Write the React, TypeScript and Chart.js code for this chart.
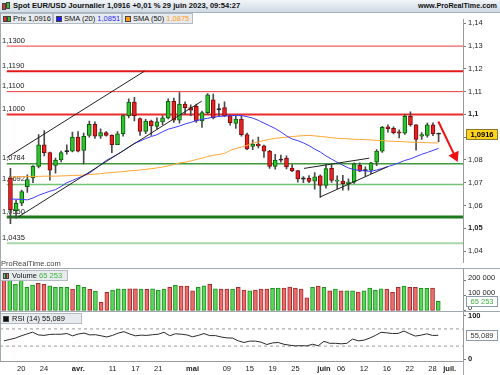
import React, { useEffect, useRef } from 'react';
import { Chart, registerables } from 'chart.js';

Chart.register(...registerables);

const FONT = '"Liberation Sans", Arial, Helvetica, sans-serif';

// ---------- DATA ----------
const dates = [
  '15/03','16/03','17/03','20/03','21/03','22/03','23/03','24/03','27/03','28/03','29/03','30/03','31/03',
  '03/04','04/04','05/04','06/04','07/04','10/04','11/04','12/04','13/04','14/04','17/04','18/04','19/04','20/04','21/04','24/04','25/04','26/04','27/04','28/04',
  '01/05','02/05','03/05','04/05','05/05','08/05','09/05','10/05','11/05','12/05','15/05','16/05','17/05','18/05','19/05','22/05','23/05','24/05','25/05','26/05','29/05','30/05','31/05',
  '01/06','02/06','05/06','06/06','07/06','08/06','09/06','12/06','13/06','14/06','15/06','16/06','19/06','20/06','21/06','22/06','23/06','26/06','27/06','28/06','29/06'
];

const open = [
  1.0721,1.0578,1.0610,1.0683,1.0721,1.0772,1.0867,1.0832,1.0776,1.0800,1.0836,1.0839,1.0901,
  1.0842,1.0908,1.0957,1.0905,1.0920,1.0908,1.0867,1.0915,1.0995,1.1054,1.0982,1.0925,1.0971,1.0947,1.0967,1.0985,1.1058,1.0975,1.1045,1.1030,
  1.1036,1.0971,1.1008,1.1064,1.1020,1.1030,1.0995,1.0961,1.0980,1.0911,1.0860,1.0870,1.0862,1.0839,1.0772,1.0799,1.0808,1.0765,1.0753,1.0718,1.0721,1.0707,1.0730,
  1.0688,1.0763,1.0707,1.0707,1.0696,1.0703,1.0776,1.0753,1.0755,1.0790,1.0839,1.0946,1.0939,1.0922,1.0918,1.0992,1.0954,1.0905,1.0908,1.0954,1.0913
];
const high = [
  1.0763,1.0625,1.0668,1.0735,1.0775,1.0911,1.0929,1.0835,1.0808,1.0839,1.0867,1.0922,1.0925,
  1.0918,1.0971,1.0968,1.0937,1.0925,1.0910,1.0925,1.0998,1.1068,1.1075,1.0985,1.0979,1.0975,1.0985,1.0995,1.1068,1.1072,1.1096,1.1055,1.1042,
  1.1045,1.1015,1.1092,1.1089,1.1047,1.1055,1.0998,1.0995,1.0995,1.0918,1.0888,1.0901,1.0865,1.0842,1.0825,1.0822,1.0818,1.0780,1.0755,1.0727,1.0732,1.0745,1.0735,
  1.0780,1.0780,1.0730,1.0733,1.0717,1.0787,1.0788,1.0770,1.0790,1.0846,1.0948,1.0954,1.0946,1.0932,1.1000,1.1011,1.0955,1.0920,1.0962,1.0963,1.0918
];
const low = [
  1.0520,1.0545,1.0600,1.0658,1.0700,1.0765,1.0818,1.0711,1.0742,1.0792,1.0826,1.0835,1.0835,
  1.0783,1.0900,1.0895,1.0895,1.0905,1.0832,1.0867,1.0905,1.0985,1.0971,1.0908,1.0915,1.0908,1.0935,1.0955,1.0980,1.0965,1.0962,1.1000,1.0995,
  1.0965,1.0943,1.1000,1.0980,1.0995,1.0990,1.0953,1.0939,1.0905,1.0845,1.0845,1.0853,1.0811,1.0763,1.0760,1.0790,1.0761,1.0749,1.0703,1.0700,1.0700,1.0672,1.0636,
  1.0676,1.0702,1.0674,1.0667,1.0667,1.0697,1.0749,1.0728,1.0740,1.0775,1.0833,1.0922,1.0914,1.0897,1.0912,1.0948,1.0843,1.0890,1.0900,1.0907,1.0880
];
const close = [
  1.0582,1.0610,1.0661,1.0714,1.0772,1.0867,1.0832,1.0755,1.0800,1.0832,1.0839,1.0901,1.0839,
  1.0904,1.0957,1.0905,1.0920,1.0908,1.0867,1.0915,1.0995,1.1054,1.0995,1.0925,1.0971,1.0950,1.0967,1.0985,1.1058,1.0975,1.1045,1.1030,1.1019,
  1.0971,1.1008,1.1086,1.0985,1.1023,1.0995,1.0964,1.0980,1.0911,1.0849,1.0870,1.0862,1.0839,1.0772,1.0800,1.0801,1.0770,1.0753,1.0717,1.0716,1.0706,1.0726,1.0688,
  1.0762,1.0710,1.0712,1.0696,1.0703,1.0783,1.0751,1.0756,1.0788,1.0839,1.0943,1.0936,1.0920,1.0918,1.0992,1.0954,1.0890,1.0911,1.0954,1.0915,1.0916
];
const sma20 = [
  1.0629,1.0628,1.0627,1.0625,1.0633,1.0645,1.0654,1.0663,1.0670,1.0684,1.0700,1.0710,1.0721,
  1.0731,1.0742,1.0760,1.0779,1.0798,1.0811,1.0825,1.0840,1.0857,1.0873,1.0883,1.0894,1.0903,1.0911,1.0924,1.0935,1.0942,1.0949,1.0958,1.0965,
  1.0973,1.0978,1.0983,1.0988,1.0991,1.0993,1.0994,1.0996,1.0995,1.0990,1.0984,1.0974,1.0962,1.0950,1.0938,1.0923,1.0906,1.0892,1.0885,1.0875,1.0863,1.0848,1.0835,
  1.0818,1.0804,1.0790,1.0777,1.0765,1.0758,1.0754,1.0752,1.0750,1.0756,1.0763,1.0771,1.0779,1.0788,1.0798,1.0805,1.0815,1.0825,1.0833,1.0842,1.0851
];
const sma50 = [
  1.0725,1.0726,1.0727,1.0727,1.0728,1.0728,1.0729,1.0729,1.0729,1.0730,1.0731,1.0732,1.0733,
  1.0734,1.0736,1.0738,1.0740,1.0743,1.0745,1.0747,1.0749,1.0752,1.0754,1.0756,1.0759,1.0762,1.0765,1.0769,1.0774,1.0780,1.0787,1.0790,1.0796,
  1.0802,1.0808,1.0815,1.0821,1.0824,1.0829,1.0842,1.0850,1.0857,1.0864,1.0875,1.0879,1.0886,1.0890,1.0895,1.0898,1.0900,1.0903,1.0905,1.0907,1.0908,1.0906,1.0903,
  1.0901,1.0898,1.0895,1.0894,1.0893,1.0891,1.0890,1.0889,1.0888,1.0886,1.0885,1.0883,1.0882,1.0881,1.0880,1.0878,1.0878,1.0877,1.0876,1.0875,1.0875
];
const volume = [
  213000,210000,178000,206000,158000,173000,184000,178000,168000,158000,158000,158000,146000,
  171000,158000,144000,133000,58000,124000,140000,148000,146000,148000,148000,146000,144000,148000,140000,146000,158000,171000,166000,166000,
  135000,158000,168000,178000,148000,146000,146000,146000,158000,140000,135000,140000,146000,146000,151000,153000,153000,160000,153000,146000,88000,158000,166000,
  158000,135000,146000,135000,135000,135000,126000,135000,153000,140000,148000,146000,124000,158000,166000,158000,158000,151000,151000,153000,65253
];
const rsi = [
  42.2,45.4,48.6,53.9,58.1,62.4,56.0,54.9,57.1,57.6,57.6,59.2,53.9,
  58.1,60.3,56.0,56.5,53.9,51.2,54.9,60.3,63.5,58.1,53.9,55.5,54.9,56.5,57.6,62.1,54.2,58.7,57.6,56.0,
  51.7,54.9,59.2,54.4,54.4,51.2,49.1,48.6,42.2,38.4,41.6,41.6,39.0,33.7,37.4,38.4,34.2,32.1,30.5,31.0,30.5,34.2,30.9,
  41.1,36.5,36.5,35.3,36.5,46.4,42.2,43.8,48.6,54.9,62.1,60.8,59.2,59.7,65.0,58.7,53.3,55.5,58.5,54.8,55.089
];

const priceTicks = [1.04, 1.05, 1.06, 1.07, 1.08, 1.09, 1.1, 1.11, 1.12, 1.13, 1.14];
const boldPriceTicks = [1.1, 1.05];
const volTicks = [0, 100000, 200000];
const rsiTicks = [0, 100];
const rsiBands = [70, 30];
const levels = [1.13, 1.119, 1.11, 1.1, 1.0784, 1.0692, 1.055, 1.0435];
const trendLines = [
  [[-0.7, 1.0810], [23.8, 1.1190]],
  [[1.4, 1.0550], [33.95, 1.1058]],
  [[52.1, 1.0763], [63.7, 1.0808]],
  [[55.0, 1.0638], [67.0, 1.0771]],
];
const arrowLine = [[75.95, 1.0969], [78.9, 1.0817]];
const xTickIdx = [3, 7, 13, 19, 23, 27, 33, 39, 43, 47, 51, 56, 59, 63, 67, 71, 75, 78];
const xTickLabels = ['20', '24', 'avr.', '11', '17', '21', 'mai', '09', '15', '19', '25', 'juin', '06', '12', '16', '22', '28', 'juil.'];
const monthLabels = ['avr.', 'mai', 'juin', 'juil.'];

// ---------- STYLE ----------
const X_MIN = -0.7;
const X_MAX = 80.33;
const levelColors = ['#f03636', '#e01a1a', '#f03636', '#ec2a2a', '#3c9a3c', '#74c274', '#1c7a1c', '#a8d8a8'];
const levelWidths = [1, 2, 1, 2, 1.5, 1.5, 3, 2];
const last = close.length - 1;

function fr(v: number, d: number) { return v.toFixed(d).replace('.', ','); }
function thousands(v: number) { return Math.round(v).toString().replace(/\B(?=(\d{3})+(?!\d))/g, ' '); }
const isUp = (i: number) => close[i] >= open[i];
const isDoji = (i: number) => Math.abs(close[i] - open[i]) < 0.00035;

const yAxisFit = (s: any) => { s.width = 37; s.paddingTop = 0; s.paddingBottom = 0; };

function xHidden() {
  return { type: 'linear', min: X_MIN, max: X_MAX, display: false, offset: false };
}

function axisBox(ctx: any, y: number, text: string, fill: string, stroke: string, color: string, bold: boolean) {
  ctx.save();
  ctx.fillStyle = fill;
  ctx.strokeStyle = stroke;
  ctx.lineWidth = 1;
  ctx.fillRect(466, Math.round(y) - 5, 32, 11);
  ctx.strokeRect(466.5, Math.round(y) - 4.5, 31, 10);
  ctx.fillStyle = color;
  ctx.font = (bold ? 'bold ' : '') + '7.5px ' + FONT;
  ctx.textAlign = 'center';
  ctx.textBaseline = 'middle';
  ctx.fillText(text, 482, Math.round(y) + 0.5);
  ctx.restore();
}

function priceConfig(): any {
  const pts = (arr: number[]) => arr.map((v, i) => ({ x: i, y: v }));
  const datasets: any[] = [];
  levels.forEach((lv, k) => datasets.push({
    type: 'line', data: [{ x: X_MIN, y: lv }, { x: X_MAX, y: lv }],
    borderColor: levelColors[k], borderWidth: levelWidths[k], pointRadius: 0, order: 10,
  }));
  datasets.push({
    type: 'bar', data: dates.map((_, i) => ({ x: i, y: [low[i], high[i]] })),
    backgroundColor: '#4a4a4a', barThickness: 1, grouped: false, order: 6,
  });
  datasets.push({
    type: 'bar', data: dates.map((_, i) => ({ x: i, y: [open[i], close[i]] })),
    backgroundColor: dates.map((_, i) => isDoji(i) ? '#222' : isUp(i) ? '#2ec42e' : '#e82222'),
    borderColor: dates.map((_, i) => isDoji(i) ? '#222' : isUp(i) ? '#0b5e0b' : '#7a0a0a'),
    borderWidth: 1, borderSkipped: false, barThickness: 4, minBarLength: 1.2, grouped: false, order: 5,
  });
  datasets.push({ type: 'line', data: pts(sma50), borderColor: '#ffa535', borderWidth: 1, pointRadius: 0, order: 3 });
  datasets.push({ type: 'line', data: pts(sma20), borderColor: '#3c3cff', borderWidth: 1, pointRadius: 0, order: 2 });
  trendLines.forEach((t) => datasets.push({
    type: 'line', data: t.map(([x, y]) => ({ x, y })), borderColor: '#222', borderWidth: 1, pointRadius: 0, order: 1,
  }));
  datasets.push({
    type: 'line', data: arrowLine.map(([x, y]) => ({ x, y })), borderColor: '#ee1111', borderWidth: 2,
    pointRadius: [0, 4.5], pointStyle: 'triangle', pointRotation: [0, 155],
    pointBackgroundColor: '#ee1111', pointBorderColor: '#ee1111', order: 0, clip: false,
  });

  const overlay = {
    id: 'priceOverlay',
    beforeDatasetsDraw(chart: any) {
      const { ctx } = chart;
      const y = chart.scales.y;
      ctx.save();
      ctx.font = '7.5px ' + FONT;
      ctx.fillStyle = '#222';
      ctx.textBaseline = 'bottom';
      ctx.textAlign = 'left';
      levels.forEach((lv) => ctx.fillText(fr(lv, 4), 2, y.getPixelForValue(lv) - 1.5));
      ctx.restore();
    },
    afterDraw(chart: any) {
      const y = chart.scales.y;
      axisBox(chart.ctx, y.getPixelForValue(close[last]), fr(close[last], 4), '#ffd21e', '#8a7a30', '#000', true);
    },
  };

  return {
    type: 'bar',
    data: { datasets },
    plugins: [overlay],
    options: {
      responsive: false, maintainAspectRatio: false, animation: false, events: [],
      layout: { padding: 0 },
      plugins: { legend: { display: false }, tooltip: { enabled: false } },
      scales: {
        x: xHidden(),
        y: {
          position: 'right', min: 1.035, max: 1.141667, beginAtZero: false,
          afterBuildTicks: (s: any) => { s.ticks = priceTicks.map((v) => ({ value: v })); },
          afterFit: yAxisFit,
          grid: { drawOnChartArea: false, drawTicks: true, tickLength: 3, color: '#777' },
          border: { display: true, color: '#9a9a9a' },
          ticks: {
            padding: 2, color: '#222',
            callback: (v: any) => String(Number(Number(v).toFixed(2))).replace('.', ','),
            font: (c: any) => ({
              family: FONT, size: 7.5,
              weight: c.tick && boldPriceTicks.some((b) => Math.abs(b - c.tick.value) < 1e-6) ? 'bold' : 'normal',
            }),
          },
        },
      },
    },
  };
}

function volConfig(): any {
  const overlay = {
    id: 'volOverlay',
    afterDraw(chart: any) {
      const y = chart.scales.y;
      axisBox(chart.ctx, y.getPixelForValue(volume[last]), thousands(volume[last]), '#ffffff', '#8a9aa8', '#3cb43c', false);
    },
  };
  return {
    type: 'bar',
    data: {
      datasets: [{
        data: volume.map((v, i) => ({ x: i, y: v })),
        backgroundColor: dates.map((_, i) => (isUp(i) ? '#5ad65a' : '#ea6d6d')),
        borderColor: dates.map((_, i) => (isUp(i) ? '#1f8f1f' : '#a52a2a')),
        borderWidth: 1, borderSkipped: false, barThickness: 4, grouped: false,
      }],
    },
    plugins: [overlay],
    options: {
      responsive: false, maintainAspectRatio: false, animation: false, events: [],
      layout: { padding: 0 },
      plugins: { legend: { display: false }, tooltip: { enabled: false } },
      scales: {
        x: xHidden(),
        y: {
          position: 'right', min: -6667, max: 280000, beginAtZero: false,
          afterBuildTicks: (s: any) => { s.ticks = volTicks.map((v) => ({ value: v })); },
          afterFit: yAxisFit,
          grid: { drawOnChartArea: false, drawTicks: true, tickLength: 3, color: '#777' },
          border: { display: true, color: '#9a9a9a' },
          ticks: {
            padding: 2, color: '#222', labelOffset: -3,
            callback: (v: any) => thousands(Number(v)),
            font: { family: FONT, size: 7.5 },
          },
        },
      },
    },
  };
}

function rsiConfig(): any {
  const overlay = {
    id: 'rsiOverlay',
    afterDraw(chart: any) {
      const y = chart.scales.y;
      axisBox(chart.ctx, y.getPixelForValue(rsi[last]), fr(rsi[last], 3), '#ffffff', '#8a9aa8', '#333', false);
    },
  };
  const datasets: any[] = rsiBands.map((b) => ({
    type: 'line', data: [{ x: X_MIN, y: b }, { x: X_MAX, y: b }],
    borderColor: '#9a9a9a', borderWidth: 1, borderDash: [3, 3], pointRadius: 0, order: 2,
  }));
  datasets.push({
    type: 'line', data: rsi.map((v, i) => ({ x: i, y: v })),
    borderColor: '#2a2a2a', borderWidth: 1, pointRadius: 0, order: 1,
  });
  return {
    type: 'line',
    data: { datasets },
    plugins: [overlay],
    options: {
      responsive: false, maintainAspectRatio: false, animation: false, events: [],
      layout: { padding: 0 },
      plugins: { legend: { display: false }, tooltip: { enabled: false } },
      scales: {
        x: {
          type: 'linear', min: X_MIN, max: X_MAX, position: 'bottom', offset: false,
          afterBuildTicks: (s: any) => { s.ticks = xTickIdx.map((v) => ({ value: v })); },
          afterFit: (s: any) => { s.height = 14; s.paddingLeft = 0; s.paddingRight = 0; },
          grid: { display: false, drawTicks: false },
          border: { display: true, color: '#9a9a9a' },
          ticks: {
            autoSkip: false, maxRotation: 0, minRotation: 0, padding: 3, color: '#222',
            callback: (_v: any, i: number) => xTickLabels[i],
            font: (c: any) => ({
              family: FONT, size: 7.5,
              weight: monthLabels.includes(xTickLabels[c.index]) ? 'bold' : 'normal',
            }),
          },
        },
        y: {
          position: 'right', min: -4.65, max: 109.3,
          afterBuildTicks: (s: any) => { s.ticks = rsiTicks.map((v) => ({ value: v })); },
          afterFit: yAxisFit,
          grid: { drawOnChartArea: false, drawTicks: true, tickLength: 3, color: '#777' },
          border: { display: true, color: '#9a9a9a' },
          ticks: { padding: 2, color: '#222', font: { family: FONT, size: 7.5, weight: 'bold' } },
        },
      },
    },
  };
}

const sq = (c: string, left: number, top: number, w = 5, h = 6): React.CSSProperties => ({
  position: 'absolute', left, top, width: w, height: h, background: c, border: '0.5px solid #444', boxSizing: 'border-box',
});

const boxStyle = (left: number, top: number, width: number): React.CSSProperties => ({
  position: 'absolute', left, top, width, height: 11, background: '#e8ebee', border: '1px solid #b3bcc5',
  boxSizing: 'border-box', fontSize: 7.5, lineHeight: '9px', whiteSpace: 'nowrap', color: '#111',
});

export default function App() {
  const pRef = useRef<HTMLCanvasElement>(null);
  const vRef = useRef<HTMLCanvasElement>(null);
  const rRef = useRef<HTMLCanvasElement>(null);

  useEffect(() => {
    Chart.defaults.font.family = FONT;
    Chart.defaults.font.size = 7.5;
    Chart.defaults.color = '#222';
    const charts = [
      new Chart(pRef.current as HTMLCanvasElement, priceConfig()),
      new Chart(vRef.current as HTMLCanvasElement, volConfig()),
      new Chart(rRef.current as HTMLCanvasElement, rsiConfig()),
    ];
    return () => charts.forEach((c) => c.destroy());
  }, []);

  const cv = (top: number, h: number): React.CSSProperties => ({ position: 'absolute', left: 0, top, width: 500, height: h });

  return (
    <div style={{ position: 'fixed', left: 0, top: 0, width: 500, height: 375, background: '#fff', overflow: 'hidden', fontFamily: FONT }}>
      {/* title bar */}
      <div style={{ position: 'absolute', left: 0, top: 0, width: 500, height: 12, background: 'linear-gradient(#f2f5f8, #cfdae4)', borderBottom: '1px solid #a5b3bf' }}>
        <div style={sq('#e23030', 2, 3, 4, 7)} />
        <div style={sq('#33bb33', 6, 2, 4, 7)} />
        <div style={{ position: 'absolute', left: 13, top: 0, fontSize: 7.6, fontWeight: 'bold', lineHeight: '12px', color: '#111', whiteSpace: 'nowrap' }}>
          {`Spot EUR/USD Journalier ${fr(close[last], 4)} +0,01 % 29 juin 2023, 09:54:27`}
        </div>
        <div style={{ position: 'absolute', right: 3, top: 0, fontSize: 7.2, fontWeight: 'bold', lineHeight: '12px', color: '#111', whiteSpace: 'nowrap' }}>
          www.ProRealTime.com
        </div>
      </div>

      <canvas ref={pRef} width={500} height={256} style={cv(13, 256)} />
      <canvas ref={vRef} width={500} height={43} style={cv(269, 43)} />
      <canvas ref={rRef} width={500} height={63} style={cv(312, 63)} />

      {/* legend */}
      <div style={boxStyle(0, 13, 53)}>
        <div style={sq('#e23030', 2, 2, 4, 6)} />
        <div style={sq('#33bb33', 6, 2, 4, 6)} />
        <span style={{ position: 'absolute', left: 12, top: 0 }}>Prix {fr(close[last], 4)}</span>
      </div>
      <div style={boxStyle(53, 13, 69)}>
        <div style={sq('#1a1aff', 2, 2, 6, 6)} />
        <span style={{ position: 'absolute', left: 10, top: 0 }}>SMA (20) <span style={{ color: '#2a2aff' }}>{fr(sma20[last], 4)}</span></span>
      </div>
      <div style={boxStyle(122, 13, 71)}>
        <div style={sq('#ff9a1a', 2, 2, 6, 6)} />
        <span style={{ position: 'absolute', left: 10, top: 0 }}>SMA (50) <span style={{ color: '#ff9a1a' }}>{fr(sma50[last], 4)}</span></span>
      </div>

      <div style={{ position: 'absolute', left: 1, top: 259, fontSize: 7.5, color: '#444', whiteSpace: 'nowrap' }}>ProRealTime.com</div>

      {/* volume label */}
      <div style={boxStyle(0, 270, 68)}>
        <div style={sq('#5ad65a', 2, 2, 3, 6)} />
        <div style={sq('#ea6d6d', 5, 2, 3, 6)} />
        <span style={{ position: 'absolute', left: 11, top: 0 }}>Volume <span style={{ color: '#3cb43c' }}>{thousands(volume[last])}</span></span>
      </div>

      {/* RSI label */}
      <div style={boxStyle(0, 313, 82)}>
        <div style={sq('#111', 2, 2, 6, 6)} />
        <span style={{ position: 'absolute', left: 11, top: 0 }}>RSI (14) {fr(rsi[last], 3)}</span>
      </div>

      {/* pane separators */}
      <div style={{ position: 'absolute', left: 0, top: 268, width: 500, height: 1, background: '#a0a8b0' }} />
      <div style={{ position: 'absolute', left: 0, top: 311, width: 500, height: 1, background: '#a0a8b0' }} />
      <div style={{ position: 'absolute', left: 0, top: 13, width: 1, height: 348, background: '#a0a8b0' }} />
      <div style={{ position: 'absolute', left: 463, top: 361, width: 1, height: 14, background: '#a0a8b0' }} />
    </div>
  );
}
